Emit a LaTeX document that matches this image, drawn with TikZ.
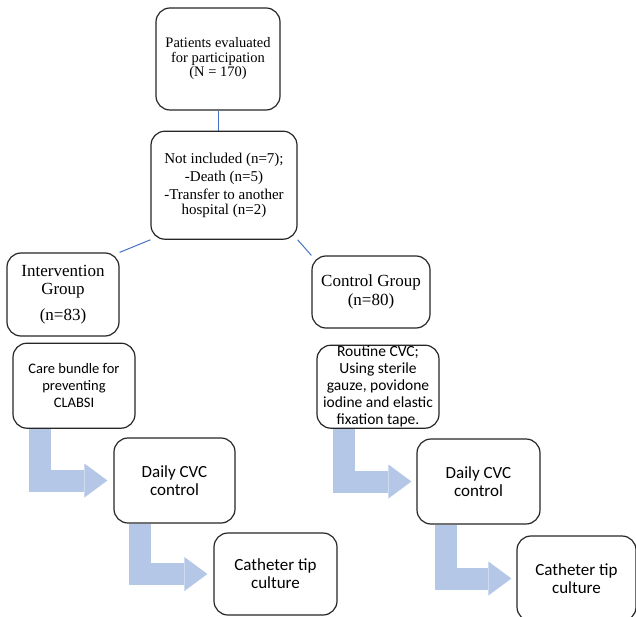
\documentclass[tikz,border=0pt]{standalone}
\usepackage{fontspec}
\setmainfont{Liberation Serif}
\newfontfamily\calibri{Carlito}
\usetikzlibrary{arrows.meta, positioning, backgrounds}
\definecolor{linkblue}{RGB}{68, 114, 196}
\definecolor{flowblue}{RGB}{180, 199, 231}

\begin{document}
\begin{tikzpicture}[
    x=1pt, y=-1pt,
    node distance=20pt,
    box/.style={rectangle, draw=black!85, line width=1.2pt, fill=white, rounded corners=14pt, align=center, inner sep=2pt},
    serifbox/.style={box, font=\fontsize{14.5}{14.5}\selectfont},
    groupbox/.style={box, font=\fontsize{17}{18.5}\selectfont},
    sansbox/.style={box, font=\calibri\fontsize{17}{18}\selectfont},
    link/.style={draw=linkblue, line width=1pt},
    flow/.style={draw=flowblue, line width=22pt, -{Triangle[length=23pt, width=34pt, line width=0pt]}}
]
\useasboundingbox (0,0) rectangle (636,617);

\node[serifbox, minimum width=124pt, minimum height=102pt] (eval) at (218,59) {Patients evaluated\\for participation\\(N = 170)};
\node[serifbox, font=\fontsize{15}{14.5}\selectfont, minimum width=146pt, minimum height=108pt, below=20pt of eval, xshift=6pt] (excl) {Not included (n=7);\\[3.5pt]-Death (n=5)\\[3.5pt]-Transfer to another\\hospital (n=2)};
\node[groupbox, minimum width=112pt, minimum height=83pt] (interv) at (63,294.5) {Intervention\\Group\\[7pt](n=83)};
\node[groupbox, minimum width=118pt, minimum height=72pt] (control) at (371,292) {Control Group\\(n=80)};
\node[sansbox, font=\calibri\fontsize{14.5}{17}\selectfont, minimum width=122pt, minimum height=85pt, below=6pt of interv, xshift=11pt] (bundle) {Care bundle for\\preventing\\CLABSI};
\node[sansbox, font=\calibri\fontsize{15.5}{17}\selectfont, inner sep=0pt, minimum width=122pt, minimum height=83pt, below=16pt of control, xshift=7pt] (routine) {Routine CVC;\\Using sterile\\gauze, povidone\\iodine and elastic\\fixation tape.};
\node[sansbox, minimum width=121pt, minimum height=85pt] (dailyL) at (174.5,480.5) {Daily CVC\\control};
\node[sansbox, minimum width=123pt, minimum height=82pt] (tipL) at (275.5,574) {Catheter tip\\culture};
\node[sansbox, minimum width=123pt, minimum height=85pt] (dailyR) at (478.5,481.5) {Daily CVC\\control};
\node[sansbox, minimum width=119pt, minimum height=85pt] (tipR) at (576.5,578.5) {Catheter tip\\culture};

\begin{scope}[on background layer]
\draw[link] (eval.south) -- (eval.south |- excl.north);
\draw[link] (excl.south west) -- (interv.north east);
\draw[link] (excl.south east) -- (control.north west);
\draw[flow] ([xshift=-34.5pt]bundle.south) |- ([xshift=-6pt]dailyL.west);
\draw[flow] ([xshift=-34.5pt]dailyL.south) |- ([xshift=-6pt]tipL.west);
\draw[flow] ([xshift=-34pt]routine.south) |- ([xshift=-5pt]dailyR.west);
\draw[flow] ([xshift=-33pt]dailyR.south) |- ([xshift=-5pt]tipR.west);
\end{scope}

\end{tikzpicture}
\end{document}
